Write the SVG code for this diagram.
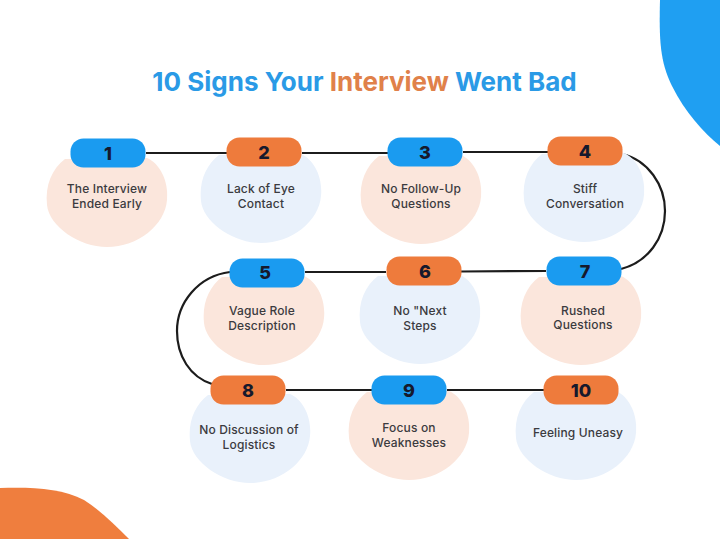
<svg xmlns="http://www.w3.org/2000/svg" width="720" height="539" viewBox="0 0 720 539">
<style>
.pill{stroke:none}
.blue{fill:#1a9bf0}
.orange{fill:#ee7b3c}
.peach{fill:#fbe6dc}
.pale{fill:#e9f1fb}
.num{font:800 18px "Inter","Liberation Sans",sans-serif;fill:#16192c;text-anchor:middle}
.lab{font:500 12px "Inter","Liberation Sans",sans-serif;letter-spacing:.15px;fill:#3b3b3f;text-anchor:middle}
.title{font:700 26px "Inter","Liberation Sans",sans-serif;fill:#2a9ae6}
.line{fill:none;stroke:#1c1c1c;stroke-width:2.2}
</style>
<defs>
<path id="blob" d="M-42,6C-55,16 -62,32 -60,52C-58,73 -28,94 0,94C31,94 58,72 60,47C62,27 52,10 40,5Z"/>
<rect id="pillshape" x="-37.500" y="-14.500" width="75" height="29" rx="13"/>
</defs>
<rect width="720" height="539" fill="#ffffff"/>
<path d="M660,0C659,40 660,62 672,86C685,112 703,132 720,146V0Z" fill="#1f9ff2"/>
<path d="M0,488C30,487 62,488 84,500C100,510 115,525 129,539H0Z" fill="#ef7e3e"/>
<text id="title" class="title" x="364.500" y="91" text-anchor="middle">10 Signs Your <tspan fill="#e0814a">Interview</tspan> Went Bad</text>
<g id="connectors" class="line">
<path d="M146,153H227"/>
<path d="M302,153H388"/>
<path d="M463,152H548"/>
<path d="M622,154C648,160 665,185 665,211C665,238 648,262 621,269"/>
<path d="M546,271L461,271.500"/>
<path d="M386,272H305"/>
<path d="M230,272C198,276 177,303 177,331C177,356 190,377 212,384"/>
<path d="M286,390H372"/>
<path d="M447,390H544"/>
</g>
<g id="node1"><use href="#blob" x="107" y="153" class="peach"/><use href="#pillshape" x="108" y="153" class="blue"/><text class="num" x="108" y="159.500">1</text><text class="lab" x="107" y="193">The Interview</text><text class="lab" x="107" y="208">Ended Early</text></g>
<g id="node2"><use href="#blob" x="261" y="149" class="pale"/><use href="#pillshape" x="264" y="152" class="orange"/><text class="num" x="264" y="158.500">2</text><text class="lab" x="261" y="193">Lack of Eye</text><text class="lab" x="261" y="208">Contact</text></g>
<g id="node3"><use href="#blob" x="421" y="150" class="peach"/><use href="#pillshape" x="425" y="152" class="blue"/><text class="num" x="425" y="158.500">3</text><text class="lab" x="421" y="193">No Follow-Up</text><text class="lab" x="421" y="208">Questions</text></g>
<g id="node4"><use href="#blob" x="584" y="148" class="pale"/><use href="#pillshape" x="585" y="151" class="orange"/><text class="num" x="585" y="158">4</text><text class="lab" x="585" y="193">Stiff</text><text class="lab" x="585" y="208">Conversation</text></g>
<g id="node5"><use href="#blob" x="264" y="271" class="peach"/><use href="#pillshape" x="267" y="273" class="blue"/><text class="num" x="265" y="278.500">5</text><text class="lab" x="262" y="315">Vague Role</text><text class="lab" x="262" y="330">Description</text></g>
<g id="node6"><use href="#blob" x="420" y="270" class="pale"/><use href="#pillshape" x="424" y="271" class="orange"/><text class="num" x="425" y="278">6</text><text class="lab" x="420" y="315">No "Next</text><text class="lab" x="420" y="330">Steps</text></g>
<g id="node7"><use href="#blob" x="581" y="271" class="peach"/><use href="#pillshape" x="584" y="271" class="blue"/><text class="num" x="585" y="278">7</text><text class="lab" x="583" y="315">Rushed</text><text class="lab" x="583" y="329">Questions</text></g>
<g id="node8"><use href="#blob" x="250" y="389" class="pale"/><use href="#pillshape" x="248" y="390" class="orange"/><text class="num" x="248" y="396.500">8</text><text class="lab" x="249" y="434">No Discussion of</text><text class="lab" x="249" y="449">Logistics</text></g>
<g id="node9"><use href="#blob" x="409" y="386" class="peach"/><use href="#pillshape" x="409" y="390" class="blue"/><text class="num" x="409" y="396.500">9</text><text class="lab" x="409" y="432">Focus on</text><text class="lab" x="409" y="447">Weaknesses</text></g>
<g id="node10"><use href="#blob" x="576" y="386" class="pale"/><use href="#pillshape" x="581" y="390" class="orange"/><text class="num" x="581" y="396.500">10</text><text class="lab" x="578" y="437">Feeling Uneasy</text></g>
</svg>
